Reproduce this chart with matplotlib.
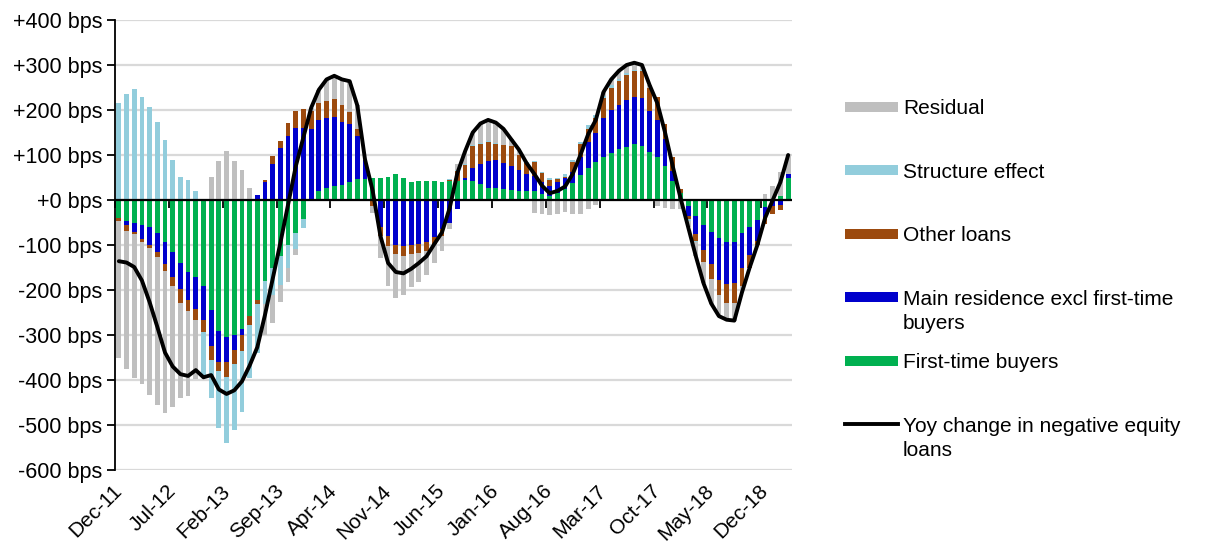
import numpy as np
import matplotlib
matplotlib.use("Agg")
import matplotlib.pyplot as plt
from matplotlib.patches import Rectangle
from matplotlib.lines import Line2D

plt.rcParams['font.family'] = ['Liberation Sans', 'DejaVu Sans']

# Monthly contributions (bps), Dec-11 .. Mar-19
tick_labels = ['Dec-11', 'Jul-12', 'Feb-13', 'Sep-13', 'Apr-14', 'Nov-14', 'Jun-15',
               'Jan-16', 'Aug-16', 'Mar-17', 'Oct-17', 'May-18', 'Dec-18']
n_months = 88

first_time = [-40, -46, -50, -56, -59, -74, -94, -116, -140, -159, -172, -190, -244, -290,
              -305, -299, -287, -257, -223, -181, -150, -124, -100, -73, -42, 0, 19, 26,
              32, 33, 41, 47, 47, 49, 48, 51, 58, 49, 41, 42, 42, 42, 41, 43,
              42, 45, 43, 36, 27, 27, 24, 22, 21, 19, 19, 13, 10, 15,
              24, 37, 55, 72, 84, 95, 104, 113, 118, 124, 121, 107, 96, 76,
              43, 15, -14, -36, -56, -72, -85, -93, -93, -74, -60, -44, -16, 0, 10, 50]

main_res = [0, -10, -21, -31, -41, -42, -48, -54, -58, -64, -70, -77, -80, -69,
            -54, -34, -14, 0, 12, 41, 81, 115, 143, 159, 159, 158, 158, 156,
            152, 141, 129, 95, 43, 0, -60, -79, -100, -102, -100, -98, -93, -83, -64, -50,
            -20, 3, 28, 45, 59, 61, 59, 53, 46, 38, 35, 26, 22, 24,
            25, 26, 40, 56, 66, 88, 96, 98, 104, 104, 106, 91, 81, 59,
            22, 0, -22, -40, -56, -70, -92, -93, -92, -77, -62, -46, -25, -14, -10, 7]

other_loans = [-6, -13, -5, -6, -7, -10, -15, -21, -30, -24, -24, -26, -31, -22,
               -34, -31, -34, -21, -7, 4, 17, 17, 29, 39, 43, 40, 39, 39,
               41, 37, 26, 16, 0, -13, -20, -24, -20, -22, -20, -20, -20, -15, -15, 2,
               22, 30, 48, 43, 43, 37, 39, 44, 34, 26, 30, 22, 13, 7,
               3, 21, 30, 30, 33, 44, 50, 54, 56, 58, 60, 52, 52, 33,
               30, 10, -6, -14, -26, -33, -35, -43, -44, -40, -28, -10, -12, -18, -12, -3]

structure = [216, 236, 247, 230, 206, 174, 134, 89, 52, 44, 20, -101, -86, -126,
             -148, -146, -135, -117, -109, -50, -60, -65, -50, -35, -20, 0, 0, 0,
             0, 0, 0, 0, 0, 0, 0, 0, 0, 0, 0, 0, 0, 0, 0, 2,
             3, 3, 3, 3, 2, 2, 0, 0, 0, 2, 2, 2, 4, 4,
             5, 5, 5, 8, 6, 5, 6, 5, 5, 4, 3, 0, 0, 0,
             0, 0, -5, -3, 0, 0, 0, 0, 0, 0, 0, 0, 0, 0, 0, 0]

residual = [-306, -306, -320, -316, -326, -330, -316, -268, -211, -188, -132, 0, 52, 86,
            110, 87, 67, 27, 0, -69, -63, -38, -32, -15, 0, 7, 29, 47,
            51, 57, 68, 52, 0, -16, -48, -88, -98, -88, -74, -64, -54, -42, -34, -15,
            13, 27, 28, 43, 47, 45, 36, 16, 11, -3, -28, -31, -34, -30,
            -27, -31, -30, -20, -11, 8, 12, 17, 17, 15, 10, 5, -14, -18,
            -20, -20, -13, -32, -47, -55, -46, -37, -39, -14, 0, 0, 13, 32, 52, 46]

yoy_change = [-136, -139, -149, -179, -227, -282, -339, -370, -387, -391, -378, -394, -389, -421,
              -431, -423, -403, -368, -327, -255, -175, -95, -10, 75, 140, 205, 245, 268,
              276, 268, 264, 210, 90, 20, -80, -140, -160, -163, -153, -140, -125, -98, -72, -18,
              60, 108, 150, 170, 178, 172, 158, 135, 112, 82, 58, 32, 15, 20,
              30, 58, 100, 146, 178, 240, 268, 287, 300, 305, 300, 255, 215, 150,
              75, 5, -60, -125, -185, -230, -258, -266, -268, -205, -150, -100, -40, 0, 40, 100]

# Stacking order (bottom to top), as in the source workbook
series = [
    ('First-time buyers', first_time, '#00B050'),
    ('Main residence excl first-time\nbuyers', main_res, '#0000CC'),
    ('Other loans', other_loans, '#9C4A0E'),
    ('Structure effect', structure, '#92CDDC'),
    ('Residual', residual, '#BFBFBF'),
]
line_label = 'Yoy change in negative equity\nloans'

W, H = 1205, 548
fig = plt.figure(figsize=(W / 100, H / 100), dpi=100)
ax = fig.add_axes([115 / W, 78 / H, 677 / W, 450 / H])

x = np.arange(n_months)
pos_base = np.zeros(n_months)
neg_base = np.zeros(n_months)
for name, vals, color in series:
    v = np.asarray(vals, dtype=float)
    p = np.clip(v, 0, None)
    n = np.clip(v, None, 0)
    ax.bar(x, p, bottom=pos_base, width=0.62, color=color, linewidth=0, zorder=2)
    ax.bar(x, n, bottom=neg_base, width=0.62, color=color, linewidth=0, zorder=2)
    pos_base += p
    neg_base += n

ax.plot(x, yoy_change, color='black', lw=2.8, zorder=5,
        solid_joinstyle='round', solid_capstyle='round')

ax.set_xlim(-0.5, n_months - 0.5)
ax.set_ylim(-600, 400)
yt = np.arange(-600, 401, 100)
ax.set_yticks(yt)
ax.set_yticklabels([f'{v:+d} bps' for v in yt])
ax.yaxis.grid(True, color='#D9D9D9', lw=1.6, zorder=0)
ax.set_axisbelow(True)

for s in ['top', 'right', 'bottom']:
    ax.spines[s].set_visible(False)
ax.spines['left'].set_color('black')
ax.spines['left'].set_linewidth(1.3)
ax.tick_params(axis='y', direction='out', length=6, width=1.3, labelsize=15.5, pad=3,
               colors='black')

ax.set_xticks(np.arange(0, n_months, 7))
ax.set_xticklabels(tick_labels, rotation=45, ha='right', va='center',
                   rotation_mode='anchor', fontsize=15)
ax.tick_params(axis='x', length=0, pad=13)

# horizontal axis at zero with tick marks between categories
ax.axhline(0, color='black', lw=1.6, zorder=4)
sec = ax.secondary_xaxis(0.6)
sec.set_alignment('bottom')
sec.set_xticks(np.arange(-0.5, n_months, 7))
sec.tick_params(axis='x', direction='out', length=6, width=1.3, labelbottom=False,
                labeltop=False, colors='black')
for s in sec.spines.values():
    s.set_visible(False)


def fy(y):
    return 1 - y / H


legend_items = [(name, color) for name, _, color in series][::-1]
for i, (label, color) in enumerate(legend_items + [(line_label, None)]):
    yc = 107 + 63.4 * i
    if color is None:
        fig.add_artist(Line2D([845 / W, 898 / W], [fy(yc), fy(yc)], color='black', lw=2.8,
                              transform=fig.transFigure))
    else:
        fig.add_artist(Rectangle((845 / W, fy(yc + 5)), 53 / W, 10 / H, color=color,
                                 transform=fig.transFigure, linewidth=0))
    for j, part in enumerate(label.split('\n')):
        fig.text(903 / W, fy(yc + 2 + 24.5 * j), part, va='center', ha='left', fontsize=15)

fig.savefig('out.png', dpi=100)
